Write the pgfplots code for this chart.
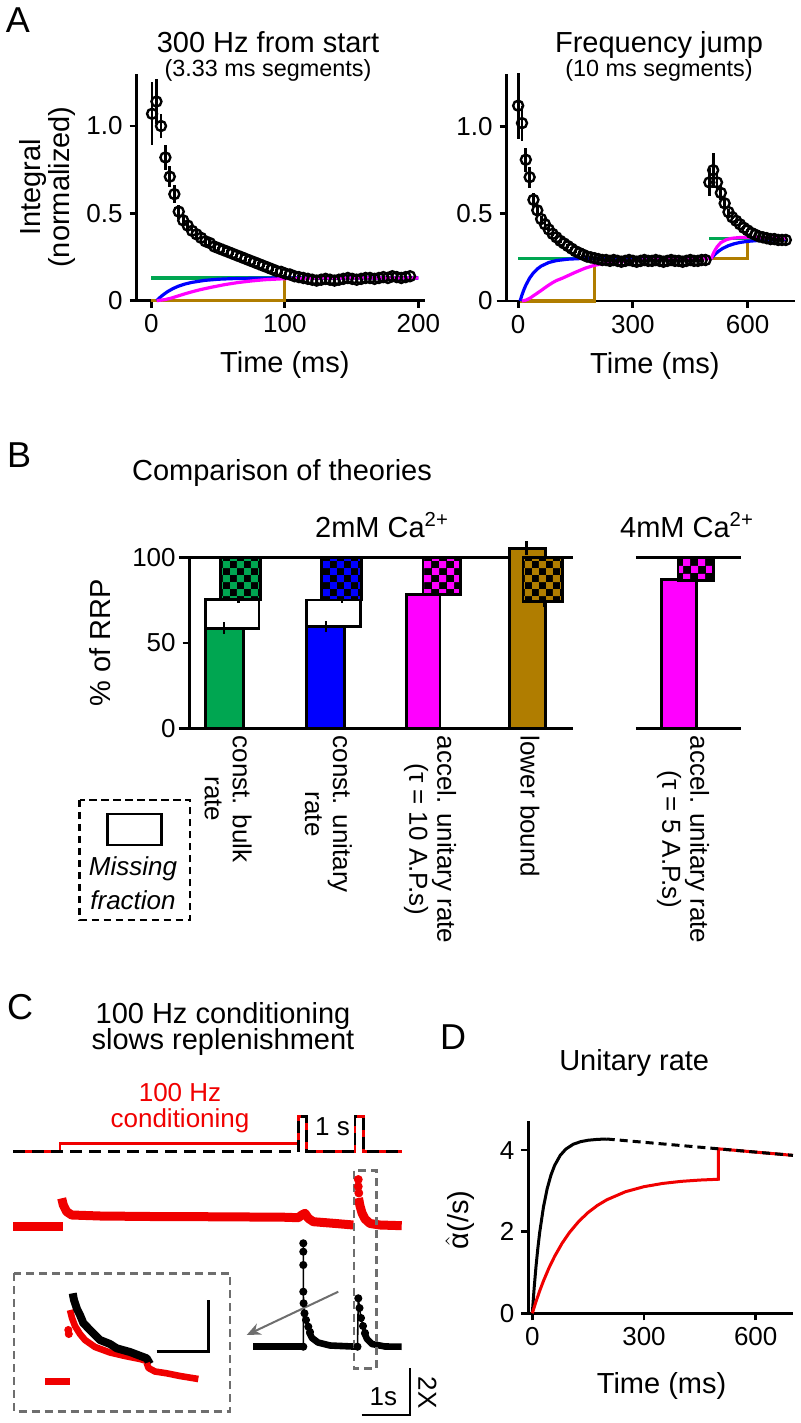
\documentclass[border=0pt]{standalone}
\usepackage{fontspec}
\setmainfont{Liberation Sans}
\usepackage{pgfplots}
\usepackage{pgfplotstable}
\pgfplotsset{compat=1.18}
\usetikzlibrary{patterns,arrows.meta}

\newcommand\fT{\fontsize{13}{13}\selectfont}
\newcommand\fL{\fontsize{13}{14}\selectfont}
\newcommand\fH{\fontsize{14.5}{14.5}\selectfont}
\newcommand\fS{\fontsize{11.7}{12}\selectfont}
\newcommand\fP{\fontsize{18}{18}\selectfont}

\definecolor{cgreen}{RGB}{0,166,81}
\definecolor{cblue}{RGB}{0,0,255}
\definecolor{cmag}{RGB}{255,0,255}
\definecolor{cgold}{RGB}{176,125,0}
\definecolor{cred}{RGB}{240,0,0}
\definecolor{cgrey}{RGB}{110,110,110}

\pgfdeclarepatternformonly{checker}{\pgfpointorigin}{\pgfpoint{7.2pt}{7.2pt}}{\pgfpoint{7.2pt}{7.2pt}}{%
  \pgfpathrectangle{\pgfpointorigin}{\pgfpoint{3.6pt}{3.6pt}}%
  \pgfpathrectangle{\pgfpoint{3.6pt}{3.6pt}}{\pgfpoint{3.6pt}{3.6pt}}%
  \pgfusepath{fill}}

\pgfplotsset{
  myaxis/.style={scale only axis, axis x line=bottom, axis y line=left,
    axis line style={line width=1.4pt,-}, tick align=outside, major tick length=3.5pt,
    every tick/.append style={black, line width=1.4pt},
    tick label style={font=\fT}, label style={font=\fH},
    clip=false, enlargelimits=false,
    /pgf/number format/assume math mode=true},
  bar/.style={draw=black, line width=1.4pt},
  ebar/.style={draw=none, mark=none, forget plot, error bars/.cd, y dir=both, y explicit,
    error mark=none, error bar style={draw=black, solid, line width=1.2pt}},
  dots/.style={black, only marks, mark=o, mark size=2.5pt, mark options={line width=1.2pt},
    error bars/.cd, y dir=both, y explicit, error mark=none,
    error bar style={line width=1.4pt, black}},
  fit/.style={line width=1.6pt},
}

\pgfplotstableread{
t y e
0.5 1.07 0.18
3.8 1.14 0.13
7.2 1.00 0.07
10.5 0.82 0.07
13.8 0.71 0.06
17.2 0.61 0.05
20.5 0.51 0.04
23.8 0.46 0.03
27.2 0.43 0.03
30.5 0.40 0.02
33.8 0.38 0.02
37.2 0.36 0.02
40.5 0.34 0.02
43.8 0.33 0.02
47.2 0.31 0.02
50.5 0.30 0.01
53.8 0.29 0.01
57.2 0.28 0.01
60.5 0.27 0.01
63.8 0.26 0.01
67.2 0.25 0.01
70.5 0.24 0.01
73.8 0.23 0.01
77.2 0.22 0.01
80.5 0.21 0.01
83.8 0.20 0.01
87.2 0.19 0.01
90.5 0.18 0.01
93.8 0.17 0.01
97.2 0.165 0.01
100.5 0.155 0.01
103.8 0.15 0.01
107.2 0.14 0.01
110.5 0.135 0.01
113.8 0.13 0
117.2 0.125 0
120.5 0.12 0
123.8 0.115 0
127.2 0.12 0
130.5 0.125 0
133.8 0.12 0
137.2 0.115 0
140.5 0.12 0
143.8 0.125 0
147.2 0.13 0
150.5 0.125 0
153.8 0.12 0
157.2 0.125 0
160.5 0.13 0
163.8 0.13 0
167.2 0.125 0
170.5 0.13 0
173.8 0.135 0
177.2 0.13 0
180.5 0.14 0
183.8 0.135 0
187.2 0.13 0
190.5 0.135 0
193.8 0.14 0
}\dataAL

\pgfplotstableread{
t y e
0 1.12 0.19
10 1.02 0.10
20 0.81 0.07
30 0.71 0.06
40 0.58 0.04
50 0.52 0.03
60 0.47 0.02
70 0.44 0.02
80 0.41 0.01
90 0.385 0.01
100 0.365 0.01
110 0.345 0.01
120 0.33 0.01
130 0.315 0.01
140 0.30 0.01
150 0.285 0.01
160 0.275 0.01
170 0.265 0.01
180 0.255 0
190 0.25 0
200 0.245 0
210 0.24 0
220 0.235 0
230 0.235 0
240 0.23 0
250 0.235 0
260 0.23 0
270 0.225 0
280 0.23 0
290 0.235 0
300 0.23 0
310 0.225 0
320 0.23 0
330 0.235 0
340 0.23 0
350 0.23 0
360 0.235 0
370 0.23 0
380 0.225 0
390 0.23 0
400 0.235 0
410 0.23 0
420 0.23 0
430 0.225 0
440 0.23 0
450 0.235 0
460 0.23 0
470 0.23 0
480 0.235 0
490 0.235 0
500 0.68 0.08
510 0.75 0.10
520 0.68 0.05
530 0.62 0.04
540 0.56 0.03
550 0.51 0.02
560 0.48 0.01
570 0.46 0.01
580 0.44 0.01
590 0.42 0.01
600 0.405 0.01
610 0.39 0
620 0.38 0
630 0.37 0
640 0.365 0
650 0.36 0
660 0.355 0
670 0.355 0
680 0.35 0
690 0.35 0
700 0.35 0
}\dataAR

\begin{document}
\begin{tikzpicture}
\path[use as bounding box] (0,0) rectangle (400pt,711.5pt);

% ---------- free text ----------
\node[font=\fP, anchor=base] at (9pt,695pt) {A};
\node[font=\fH, anchor=base] at (134pt,685.45pt) {300 Hz from start};
\node[font=\fS, anchor=base] at (134pt,673.15pt) {(3.33 ms segments)};
\node[font=\fH, anchor=base] at (329.5pt,685.45pt) {Frequency jump};
\node[font=\fS, anchor=base] at (329.5pt,673pt) {(10 ms segments)};
\node[font=\fP, anchor=base] at (9.6pt,477.5pt) {B};
\node[font=\fH, anchor=base] at (141pt,471pt) {Comparison of theories};
\node[font=\fH, anchor=base] at (191pt,442.85pt) {2mM Ca\textsuperscript{2+}};
\node[font=\fH, anchor=base] at (343.5pt,442.85pt) {4mM Ca\textsuperscript{2+}};
\draw[dash pattern=on 3.6pt off 2.4pt, line width=1.3pt] (39.75pt,311.5pt) rectangle (95pt,251.5pt);
\draw[line width=1.3pt, fill=white] (53.85pt,304.5pt) rectangle (80.75pt,289pt);
\node[font=\fL\itshape, anchor=base] at (66.5pt,273.5pt) {Missing};
\node[font=\fL\itshape, anchor=base] at (66.5pt,256.75pt) {fraction};
\node[font=\fP, anchor=base] at (10pt,201.7pt) {C};
\node[font=\fH, anchor=base] at (111.5pt,199.5pt) {100 Hz conditioning};
\node[font=\fH, anchor=base] at (111.5pt,186.5pt) {slows replenishment};
\node[font=\fP, anchor=base] at (226.5pt,186.7pt) {D};
\node[font=\fH, anchor=base] at (317.1pt,176.15pt) {Unitary rate};

% ---------- A left ----------
\begin{axis}[myaxis, at={(68.35pt,561.15pt)}, anchor=south west,
  width=144.15pt, height=113.55pt, xmin=-11, xmax=205, ymin=0, ymax=1.3,
  xtick={0,100,200}, ytick={0,0.5,1}, yticklabels={0,0.5,1.0},
  xlabel={Time (ms)}, ylabel={Integral\\(normalized)},
  xlabel style={at={(axis description cs:0.514,-0.318)}, anchor=base},
  ylabel style={at={(axis description cs:-0.31,0.5)}, anchor=center, align=center},
  x axis line style={shorten <=-3pt}]
\addplot[dots] table[x=t, y=y, y error=e] {\dataAL};
\addplot[cgold, fit] coordinates {(0,0) (100,0) (100,0.13) (200,0.13)};
\addplot[cgreen, fit] coordinates {(0,0.13) (200,0.13)};
\addplot[cblue, fit] coordinates {(4,0) (6,0.0153) (8,0.0288) (12,0.0512) (16,0.0686) (20,0.0822) (25,0.095) (30,0.1044) (40,0.1163) (50,0.1227) (60,0.126) (80,0.1289) (100,0.1297) (150,0.13) (200,0.13)};
\addplot[cmag, fit] coordinates {(4,0) (10,0.006) (15,0.015) (20,0.027) (25,0.039) (30,0.05) (36,0.062) (45,0.077) (55,0.092) (65,0.104) (75,0.113) (85,0.12) (100,0.126) (120,0.129) (150,0.13) (200,0.13)};
\end{axis}

% ---------- A right ----------
\begin{axis}[myaxis, at={(253.35pt,561pt)}, anchor=south west,
  width=144.15pt, height=113.35pt, xmin=-30, xmax=724, ymin=0, ymax=1.3,
  xtick={0,300,600}, ytick={0,0.5,1}, yticklabels={0,0.5,1.0},
  xlabel={Time (ms)},
  xlabel style={at={(axis description cs:0.514,-0.318)}, anchor=base},
  x axis line style={shorten <=-5pt}]
\addplot[dots] table[x=t, y=y, y error=e] {\dataAR};
\addplot[cgold, fit] coordinates {(5,0) (200,0) (200,0.245) (600,0.245) (600,0.35) (700,0.35)};
\addplot[cgreen, fit] coordinates {(0,0.245) (500,0.245)};
\addplot[cgreen, fit] coordinates {(500,0.36) (700,0.36)};
\addplot[cblue, fit] coordinates {(5,0) (10,0.035) (15,0.065) (20,0.0906) (30,0.1315) (40,0.1615) (50,0.1836) (60,0.1999) (80,0.2206) (100,0.2318) (130,0.2397) (160,0.2429) (200,0.2445) (500,0.245) (505,0.245) (515,0.2687) (525,0.2871) (535,0.3015) (550,0.3173) (565,0.3281) (580,0.3356) (600,0.342) (630,0.3473) (660,0.3498) (700,0.3512)};
\addplot[cmag, fit] coordinates {(10,0) (20,0.005) (30,0.015) (40,0.03) (50,0.045) (60,0.06) (70,0.076) (80,0.091) (90,0.105) (100,0.117) (115,0.13) (130,0.145) (150,0.165) (175,0.188) (200,0.205) (230,0.217) (260,0.225) (300,0.232) (350,0.237) (400,0.24) (500,0.243) (505,0.245) (512,0.28) (520,0.31) (530,0.335) (545,0.352) (560,0.36) (580,0.364) (620,0.364) (700,0.36)};
\end{axis}

% ---------- B, 2 mM ----------
\begin{axis}[myaxis, at={(94.85pt,347.35pt)}, anchor=south west,
  width=191.8pt, height=85.3pt, xmin=-0.152, xmax=3.631, ymin=0, ymax=100,
  ytick={0,50,100},
  xtick={0.228,1.215,2.218,3.204},
  xticklabels={{const. bulk\\rate},{const. unitary\\rate},{accel. unitary rate\\(τ = 10 A.P.s)},{lower bound}},
  xtick style={draw=none},
  xticklabel style={rotate=-90, anchor=west, align=center, font=\fL, inner sep=0pt},
  ylabel={\% of RRP},
  ylabel style={at={(axis description cs:-0.234,0.5)}, anchor=center},
  x axis line style={shorten <=-5.6pt}]
\addplot[black, line width=1.4pt] coordinates {(-0.262,100) (3.631,100)};
% green
\addplot[bar, fill=cgreen] coordinates {(0,0) (0.38,0) (0.38,58.6) (0,58.6)} -- cycle;
\addplot[bar, fill=white] coordinates {(0,58.6) (0.532,58.6) (0.532,75.6) (0,75.6)} -- cycle;
\addplot[bar, fill=black, postaction={pattern=checker, pattern color=cgreen}] coordinates {(0.152,75.6) (0.547,75.6) (0.547,100) (0.152,100)} -- cycle;
% blue
\addplot[bar, fill=cblue] coordinates {(0.997,0) (1.376,0) (1.376,59.6) (0.997,59.6)} -- cycle;
\addplot[bar, fill=white] coordinates {(0.997,59.6) (1.532,59.6) (1.532,75.2) (0.997,75.2)} -- cycle;
\addplot[bar, fill=black, postaction={pattern=checker, pattern color=cblue}] coordinates {(1.148,75.2) (1.542,75.2) (1.542,100) (1.148,100)} -- cycle;
% magenta
\addplot[bar, fill=cmag] coordinates {(1.988,0) (2.316,0) (2.316,78.5) (1.988,78.5)} -- cycle;
\addplot[bar, fill=black, postaction={pattern=checker, pattern color=cmag}] coordinates {(2.149,78.3) (2.519,78.3) (2.519,100) (2.149,100)} -- cycle;
% gold
\addplot[bar, fill=cgold] coordinates {(2.999,0) (3.353,0) (3.353,105.5) (2.999,105.5)} -- cycle;
\addplot[bar, fill=black, postaction={pattern=checker, pattern color=cgold}] coordinates {(3.135,74.2) (3.526,74.2) (3.526,100) (3.135,100)} -- cycle;
% error bars
\addplot[ebar] coordinates {(0.186,58.6) +- (0,3.5) (0.33,75.6) +- (0,2) (1.19,59.6) +- (0,3) (1.35,75.2) +- (0,2) (3.17,105.5) +- (0,4) (3.34,74.2) +- (0,3)};
\end{axis}

% ---------- B, 4 mM ----------
\begin{axis}[myaxis, axis y line=none, at={(317.95pt,347.35pt)}, anchor=south west,
  width=52.55pt, height=85.3pt, xmin=-0.252, xmax=0.784, ymin=0, ymax=100,
  ytick=\empty, xtick={0.212},
  xticklabels={{accel. unitary rate\\(τ = 5 A.P.s)}},
  xtick style={draw=none},
  xticklabel style={rotate=-90, anchor=west, align=center, font=\fL, inner sep=0pt}]
\addplot[black, line width=1.4pt] coordinates {(-0.252,100) (0.784,100)};
\addplot[bar, fill=cmag] coordinates {(0,0) (0.344,0) (0.344,87.3) (0,87.3)} -- cycle;
\addplot[bar, fill=black, postaction={pattern=checker, pattern color=cmag}] coordinates {(0.163,86.5) (0.516,86.5) (0.516,100) (0.163,100)} -- cycle;
\end{axis}

% ---------- C (pixel coordinates) ----------
\begin{axis}[at={(0pt,0pt)}, anchor=south west, scale only axis,
  width=220pt, height=171.5pt, xmin=0, xmax=440, ymin=1080, ymax=1423,
  y dir=reverse, axis lines=none, clip=false]
% stimulus protocol
\addplot[cred, line width=1.3pt] coordinates {(13.3,1151.7) (60,1151.7) (60,1143.3) (298.3,1143.3) (298.3,1116.7) (306.7,1116.7) (306.7,1151.7) (355,1151.7) (355,1116.7) (363.3,1116.7) (363.3,1151.7) (401.7,1151.7)};
\addplot[black, line width=1.3pt, dash pattern=on 6pt off 3.5pt] coordinates {(13.3,1151.7) (298.3,1151.7) (298.3,1116.7) (306.7,1116.7) (306.7,1151.7) (355,1151.7) (355,1116.7) (363.3,1116.7) (363.3,1151.7) (401.7,1151.7)};
\node[font=\fL, text=cred, anchor=base] at (180,1101.7) {100 Hz};
\node[font=\fL, text=cred, anchor=base] at (180,1127) {conditioning};
\node[font=\fL, anchor=base] at (332.5,1135) {1 s};
% red trace (conditioned)
\addplot[cred, line width=4.5pt] coordinates {(13.3,1226.7) (63,1226.7)};
\addplot[cred, line width=4.5pt, line join=round] coordinates {(61.7,1198.3) (63.3,1205) (66.7,1211.7) (71.7,1215) (100,1216) (150,1216.5) (200,1216.7) (250,1217) (283.3,1217.2) (298.3,1217.7) (301.7,1215) (305,1213.3) (308.3,1218.3) (313.3,1221.7) (333.3,1223.3) (353.3,1225)};
\addplot[cred, line width=4.5pt, line join=round] coordinates {(358.5,1198) (360,1206) (362,1213) (365,1219) (370,1223.5) (380,1225) (401.7,1225.7)};
\addplot[cred, only marks, mark=*, mark size=2pt] coordinates {(358.3,1179.5) (358.3,1186.5) (358.8,1193)};
% black trace (control)
\addplot[black, line width=3.3pt] coordinates {(253.3,1346.7) (302,1346.7)};
\addplot[black, line width=3.3pt, line join=round] coordinates {(309,1332) (312,1338) (318,1342.5) (330,1345.5) (357,1346.7)};
\addplot[black, line width=3.3pt, line join=round] coordinates {(364,1332) (367,1339) (372,1344) (385,1346.5) (401.7,1346.7)};
\addplot[black, line width=0.8pt, mark=*, mark size=1.6pt] coordinates {(303.3,1346.7) (303.3,1243.3) (303.3,1251.7) (303.3,1265) (303.3,1291.7) (303.6,1303.3) (304.5,1313.3) (306,1320) (308.3,1326.7) (310,1332)};
\addplot[black, line width=0.8pt, mark=*, mark size=1.6pt] coordinates {(357.5,1346.7) (358.3,1298.3) (359.5,1308) (361,1318) (363,1326) (365,1333)};
% boxes, arrow, scale bars
\draw[cgrey, line width=1.3pt, dash pattern=on 4pt off 2.5pt] (354,1170.7) rectangle (376.7,1368.3);
\draw[cgrey, line width=1.3pt, dash pattern=on 4pt off 2.5pt] (14,1273.3) rectangle (230,1411.7);
\draw[cgrey, line width=1pt, -{Stealth[length=7pt,width=6pt]}] (338.3,1291.7) -- (246.7,1335);
\draw[black, line width=1.1pt] (361.7,1415) -- (410,1415) -- (410,1368.3);
\node[font=\fL, anchor=base] at (383.3,1405) {1s};
\node[font=\fL, rotate=-90, anchor=center] at (427.5,1392.5) {2X};
% inset
\addplot[cred, line width=3.3pt] coordinates {(45,1381.7) (70,1381.7)};
\addplot[cred, line width=3.3pt, line join=round] coordinates {(70,1310) (72,1318) (75,1326) (80,1334) (85,1340) (95,1347) (110,1352.5) (125,1356) (140,1359) (146.7,1361)};
\addplot[cred, only marks, mark=*, mark size=1.8pt] coordinates {(68.3,1330) (68.8,1334)};
\addplot[black, line width=4pt, line join=round] coordinates {(72.7,1293.3) (74,1300) (77,1309) (80,1315) (83.3,1323) (90,1330) (100,1340) (110,1344) (116.7,1348.3) (130,1352) (146.7,1358.3) (150,1364)};
\addplot[cred, line width=3.3pt, line join=round] coordinates {(146.7,1363) (148.5,1368) (155,1371.5) (166.7,1373.3) (180,1376) (198.3,1379)};
\draw[black, line width=1.3pt] (156.7,1351.7) -- (208.3,1351.7) -- (208.3,1300);
\end{axis}

% ---------- D ----------
\begin{axis}[myaxis, at={(264.15pt,54.85pt)}, anchor=south west,
  width=132.5pt, height=95.9pt, xmin=-10.7, xmax=701, ymin=0, ymax=4.7,
  xtick={0,300,600}, ytick={0,2,4},
  xlabel={Time (ms)}, ylabel={$\hat{\mbox{α}}$(/s)},
  xlabel style={at={(axis description cs:0.503,-0.419)}, anchor=base},
  ylabel style={at={(axis description cs:-0.258,0.486)}, anchor=center},
  x axis line style={shorten <=-3.3pt}]
\addplot[black, line width=1.5pt] coordinates {(0,0) (5,0.619) (10,1.149) (15,1.601) (20,1.989) (30,2.604) (40,3.054) (50,3.383) (60,3.624) (75,3.869) (90,4.023) (110,4.143) (130,4.206) (150,4.241) (175,4.262) (200,4.271)};
\addplot[cred, line width=1.5pt] coordinates {(0,0) (10,0.288) (20,0.552) (30,0.793) (45,1.115) (60,1.396) (80,1.716) (100,1.982) (125,2.254) (150,2.471) (175,2.644) (200,2.781) (250,2.978) (300,3.103) (350,3.182) (400,3.233) (450,3.265) (500,3.285) (500,4.03) (700,3.87)};
\addplot[black, line width=1.5pt, dash pattern=on 4pt off 2.5pt] coordinates {(200,4.271) (700,3.87)};
\end{axis}
\end{tikzpicture}
\end{document}
